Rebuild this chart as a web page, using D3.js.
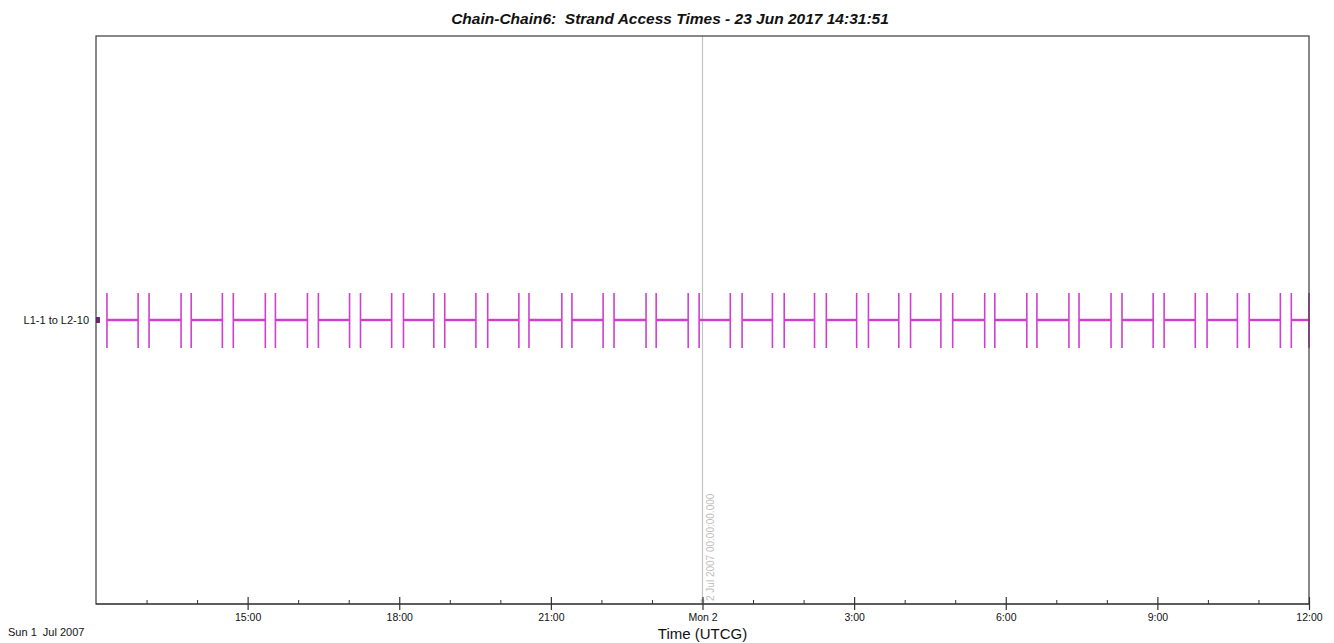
<!DOCTYPE html>
<html>
<head>
<meta charset="utf-8">
<script src="https://cdn.jsdelivr.net/npm/d3@7"></script>
<style>
  html, body { margin: 0; padding: 0; background: #fff; }
  svg { display: block; font-family: "Liberation Sans", Arial, sans-serif; }
  text { white-space: pre; }
</style>
</head>
<body>
<svg id="chart" width="1334" height="643"></svg>
<script>
// ---------- data ----------
const chartTitle = "Chain-Chain6:  Strand Access Times - 23 Jun 2017 14:31:51";
const categories = ["L1-1 to L2-10"];
const timeDomain = ["2007-07-01T12:00", "2007-07-02T12:00"];
const accessStarts = [
  "2007-07-01T12:13", "2007-07-01T13:03", "2007-07-01T13:53", "2007-07-01T14:43",
  "2007-07-01T15:33", "2007-07-01T16:24", "2007-07-01T17:14", "2007-07-01T18:05",
  "2007-07-01T18:54", "2007-07-01T19:45", "2007-07-01T20:34", "2007-07-01T21:25",
  "2007-07-01T22:15", "2007-07-01T23:05", "2007-07-01T23:56",
  "2007-07-02T00:47", "2007-07-02T01:37", "2007-07-02T02:27", "2007-07-02T03:17",
  "2007-07-02T04:07", "2007-07-02T04:57", "2007-07-02T05:47", "2007-07-02T06:37",
  "2007-07-02T07:27", "2007-07-02T08:18", "2007-07-02T09:08", "2007-07-02T09:59",
  "2007-07-02T10:49", "2007-07-02T11:39"
];
const accessEnds = [
  "2007-07-01T12:50", "2007-07-01T13:41", "2007-07-01T14:30", "2007-07-01T15:21",
  "2007-07-01T16:11", "2007-07-01T17:01", "2007-07-01T17:51", "2007-07-01T18:41",
  "2007-07-01T19:31", "2007-07-01T20:22", "2007-07-01T21:13", "2007-07-01T22:02",
  "2007-07-01T22:53", "2007-07-01T23:43",
  "2007-07-02T00:33", "2007-07-02T01:23", "2007-07-02T02:13", "2007-07-02T03:03",
  "2007-07-02T03:53", "2007-07-02T04:43", "2007-07-02T05:35", "2007-07-02T06:25",
  "2007-07-02T07:15", "2007-07-02T08:05", "2007-07-02T08:55", "2007-07-02T09:45",
  "2007-07-02T10:35", "2007-07-02T11:26", "2007-07-02T12:00"
];
const majorTickTimes = [
  "2007-07-01T15:00", "2007-07-01T18:00", "2007-07-01T21:00", "2007-07-02T00:00",
  "2007-07-02T03:00", "2007-07-02T06:00", "2007-07-02T09:00", "2007-07-02T12:00"
];
const majorTickLabels = ["15:00", "18:00", "21:00", "Mon 2", "3:00", "6:00", "9:00", "12:00"];
const minorTickTimes = [
  "2007-07-01T13:00", "2007-07-01T14:00", "2007-07-01T16:00", "2007-07-01T17:00",
  "2007-07-01T19:00", "2007-07-01T20:00", "2007-07-01T22:00", "2007-07-01T23:00",
  "2007-07-02T01:00", "2007-07-02T02:00", "2007-07-02T04:00", "2007-07-02T05:00",
  "2007-07-02T07:00", "2007-07-02T08:00", "2007-07-02T10:00", "2007-07-02T11:00"
];
const markerTime = "2007-07-02T00:00";
const markerLabel = "2 Jul 2007 00:00:00.000";
const startDateLabel = "Sun 1  Jul 2007";
const xAxisTitle = "Time (UTCG)";

// ---------- layout ----------
const parse = d3.utcParse("%Y-%m-%dT%H:%M");
const plotLeft = 96, plotRight = 1309, plotTop = 36, plotBottom = 604;
const svg = d3.select("#chart");

const x = d3.scaleUtc().domain(timeDomain.map(parse)).range([plotLeft, plotRight]);
const y = d3.scalePoint().domain(categories).range([plotTop, plotBottom]).padding(0.5);

const color = "#d03ed0";
const intervals = accessStarts.map((s, i) => ({ cat: categories[0], start: parse(s), end: parse(accessEnds[i]) }));

// marker vertical line
const mx = x(parse(markerTime));
svg.append("line")
  .attr("x1", mx).attr("x2", mx).attr("y1", plotTop).attr("y2", plotBottom)
  .attr("stroke", "#c4c4c4").attr("stroke-width", 1.2);
svg.append("text")
  .attr("transform", `translate(${mx + 11},${plotBottom - 3}) rotate(-90)`)
  .attr("font-size", 10).attr("fill", "#bdbdbd")
  .text(markerLabel);
svg.append("circle").attr("cx", mx).attr("cy", plotBottom - 3).attr("r", 2).attr("fill", "#bdbdbd");

// access intervals
const g = svg.append("g");
g.selectAll("line.h").data(intervals).join("line")
  .attr("class", "h")
  .attr("x1", d => x(d.start)).attr("x2", d => x(d.end))
  .attr("y1", d => y(d.cat)).attr("y2", d => y(d.cat))
  .attr("stroke", color).attr("stroke-width", 2.4);
g.selectAll("line.s").data(intervals).join("line")
  .attr("class", "s")
  .attr("x1", d => x(d.start)).attr("x2", d => x(d.start))
  .attr("y1", d => y(d.cat) - 27).attr("y2", d => y(d.cat) + 28)
  .attr("stroke", color).attr("stroke-width", 1.6);
g.selectAll("line.e").data(intervals).join("line")
  .attr("class", "e")
  .attr("x1", d => x(d.end)).attr("x2", d => x(d.end))
  .attr("y1", d => y(d.cat) - 27).attr("y2", d => y(d.cat) + 28)
  .attr("stroke", color).attr("stroke-width", 1.6);

// small marker at left edge
svg.append("rect").attr("x", plotLeft).attr("y", y(categories[0]) - 3).attr("width", 4).attr("height", 6)
  .attr("fill", "#7a1f7a");

// frame
svg.append("rect").attr("x", plotLeft).attr("y", plotTop).attr("width", plotRight - plotLeft).attr("height", plotBottom - plotTop)
  .attr("fill", "none").attr("stroke", "#3a3a3a").attr("stroke-width", 1.2);

// category labels
svg.selectAll("text.cat").data(categories).join("text")
  .attr("class", "cat")
  .attr("x", 89).attr("y", d => y(d)).attr("dy", "0.35em")
  .attr("text-anchor", "end").attr("font-size", 11).attr("fill", "#111")
  .text(d => d);

// x axis: minor ticks (inside)
const minorAxis = d3.axisBottom(x).tickValues(minorTickTimes.map(parse)).tickSize(-4).tickFormat("");
svg.append("g").attr("transform", `translate(0,${plotBottom})`).call(minorAxis)
  .call(a => a.select(".domain").remove())
  .call(a => a.selectAll("line").attr("stroke", "#333"));

// major ticks crossing axis
const majorAxis = d3.axisBottom(x).tickValues(majorTickTimes.map(parse)).tickSize(6)
  .tickFormat((d, i) => majorTickLabels[i]).tickPadding(4);
const ax = svg.append("g").attr("transform", `translate(0,${plotBottom})`).call(majorAxis);
ax.select(".domain").remove();
ax.selectAll(".tick line").attr("y1", -7).attr("y2", 6).attr("stroke", "#333").attr("stroke-width", 1.2);
ax.selectAll(".tick text").attr("font-size", 10.5).attr("fill", "#111")
  .attr("font-family", "'Liberation Sans', Arial, sans-serif");

// axis baseline
svg.append("line").attr("x1", plotLeft).attr("x2", plotRight).attr("y1", plotBottom).attr("y2", plotBottom)
  .attr("stroke", "#333").attr("stroke-width", 1.2);

// start date label
svg.append("text").attr("x", 8).attr("y", 636).attr("font-size", 11).attr("fill", "#111").text(startDateLabel);

// axis title
svg.append("text").attr("x", mx).attr("y", 639)
  .attr("text-anchor", "middle").attr("font-size", 15).attr("fill", "#111").text(xAxisTitle);

// title
svg.append("text").attr("x", 670).attr("y", 24)
  .attr("text-anchor", "middle").attr("font-size", 15.5).attr("font-weight", "bold").attr("font-style", "italic")
  .attr("fill", "#111").text(chartTitle);
</script>
</body>
</html>
